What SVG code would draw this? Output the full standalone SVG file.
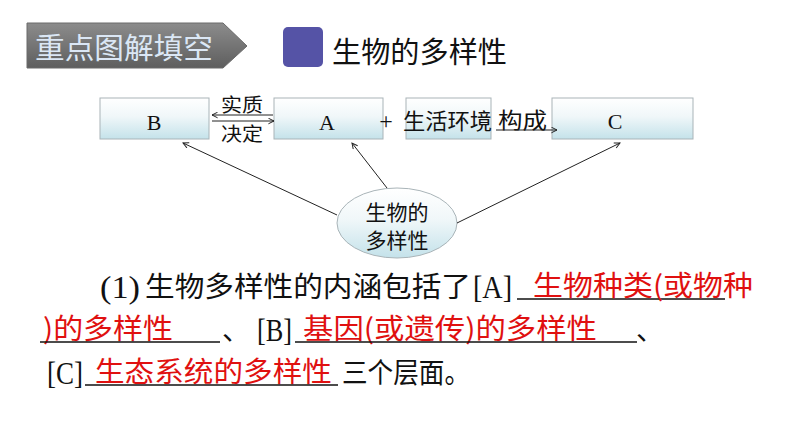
<svg xmlns="http://www.w3.org/2000/svg" width="794" height="447" viewBox="0 0 794 447">
<style>
.box{stroke:#a9b4b8;stroke-width:1;fill:url(#bg)}
.cn{font-family:"Noto Sans CJK SC","Liberation Sans",sans-serif}
.sf{font-family:"Liberation Serif","Noto Sans CJK SC",serif}
.blk{fill:#111}
.red{fill:#e01010}
.ln{stroke:#222;stroke-width:1;fill:none}
.ul{stroke:#111;stroke-width:1.3}
</style>
<defs>
<linearGradient id="bg" x1="0" y1="0" x2="0" y2="1">
<stop offset="0" stop-color="#ffffff"/>
<stop offset="0.45" stop-color="#f0f7f9"/>
<stop offset="1" stop-color="#c4e2ea"/>
</linearGradient>
<linearGradient id="gray" x1="0" y1="0" x2="0" y2="1">
<stop offset="0" stop-color="#8c8c8c"/>
<stop offset="1" stop-color="#5e5e5e"/>
</linearGradient>
<marker id="ah" viewBox="0 0 10 10" refX="9" refY="5" markerWidth="7" markerHeight="7" orient="auto-start-reverse" markerUnits="userSpaceOnUse">
<path d="M1,1 L9,5 L1,9" fill="none" stroke="#222" stroke-width="1.4"/>
</marker>
</defs>
<rect width="794" height="447" fill="#ffffff"/>

<g id="banner">
<polygon points="27,23 223,23 247,46 223,68 27,68" fill="url(#gray)" stroke="#6a6a6a" stroke-width="1"/>
<text x="35" y="59" class="cn" font-size="29" fill="#dbe7f5" textLength="178" lengthAdjust="spacingAndGlyphs">重点图解填空</text>
</g>

<g id="title">
<rect x="283" y="27" width="40" height="40" rx="5" fill="#5553a6"/>
<text x="332" y="63" class="cn" font-size="29" fill="#111" textLength="175" lengthAdjust="spacingAndGlyphs">生物的多样性</text>
</g>

<g id="nodeB">
<rect class="box" x="100" y="98" width="109" height="41"/>
<text x="154" y="130" class="sf blk" font-size="22" text-anchor="middle">B</text>
</g>
<g id="nodeA">
<rect class="box" x="274" y="98" width="109" height="41"/>
<text x="327" y="130" class="sf blk" font-size="22" text-anchor="middle">A</text>
</g>
<g id="nodeEnv">
<rect class="box" x="406" y="98" width="85" height="41"/>
<text x="403" y="129" class="cn blk" font-size="22" textLength="89" lengthAdjust="spacingAndGlyphs">生活环境</text>
</g>
<g id="nodeC">
<rect class="box" x="552" y="98" width="141" height="41"/>
<text x="615" y="129" class="sf blk" font-size="22" text-anchor="middle">C</text>
</g>
<g id="nodeDiv">
<ellipse cx="397" cy="223" rx="60" ry="35" fill="url(#bg)" stroke="#a9b4b8" stroke-width="1"/>
<text x="397" y="220" class="cn blk" font-size="21" text-anchor="middle">生物的</text>
<text x="397" y="248" class="cn blk" font-size="21" text-anchor="middle">多样性</text>
</g>

<g id="labels">
<text x="221" y="112" class="cn blk" font-size="19" textLength="42" lengthAdjust="spacingAndGlyphs">实质</text>
<text x="221" y="141" class="cn blk" font-size="19" textLength="42" lengthAdjust="spacingAndGlyphs">决定</text>
<text x="386" y="129" class="sf blk" font-size="24" text-anchor="middle">+</text>
<text x="498" y="128" class="cn blk" font-size="22" textLength="49" lengthAdjust="spacingAndGlyphs">构成</text>
</g>

<g id="connectors">
<line class="ln" x1="273" y1="115" x2="212" y2="115" marker-end="url(#ah)"/>
<line class="ln" x1="212" y1="121" x2="274" y2="121" marker-end="url(#ah)"/>
<line class="ln" x1="496" y1="130" x2="557" y2="130" marker-end="url(#ah)"/>
<line class="ln" x1="337" y1="215" x2="183" y2="143" marker-end="url(#ah)"/>
<line class="ln" x1="387" y1="188" x2="352" y2="143" marker-end="url(#ah)"/>
<line class="ln" x1="457" y1="223" x2="620" y2="143" marker-end="url(#ah)"/>
</g>

<g id="para">
<text x="100" y="298" class="sf blk" font-size="32" textLength="40" lengthAdjust="spacingAndGlyphs">(1)</text>
<text x="145" y="297" class="cn blk" font-size="28" textLength="326" lengthAdjust="spacingAndGlyphs">生物多样性的内涵包括了</text>
<text x="473" y="298" class="sf blk" font-size="32" textLength="39" lengthAdjust="spacingAndGlyphs">[A]</text>
<line class="ul" x1="517" y1="299" x2="725" y2="299"/>
<text x="533" y="296" class="cn red" font-size="28" textLength="220" lengthAdjust="spacingAndGlyphs">生物种类(或物种</text>

<text x="43" y="339" class="cn red" font-size="28" textLength="130" lengthAdjust="spacingAndGlyphs">)的多样性</text>
<line class="ul" x1="40" y1="342" x2="220" y2="342"/>
<text x="222" y="340" class="cn blk" font-size="28">、</text>
<text x="257" y="341" class="sf blk" font-size="32" textLength="35" lengthAdjust="spacingAndGlyphs">[B]</text>
<text x="303" y="339" class="cn red" font-size="28" textLength="294" lengthAdjust="spacingAndGlyphs">基因(或遗传)的多样性</text>
<line class="ul" x1="295" y1="342" x2="637" y2="342"/>
<text x="636" y="340" class="cn blk" font-size="28">、</text>

<text x="47" y="384" class="sf blk" font-size="32" textLength="36" lengthAdjust="spacingAndGlyphs">[C]</text>
<text x="95" y="382" class="cn red" font-size="28" textLength="237" lengthAdjust="spacingAndGlyphs">生态系统的多样性</text>
<line class="ul" x1="85" y1="385" x2="338" y2="385"/>
<text x="342" y="383" class="cn blk" font-size="28" textLength="128" lengthAdjust="spacingAndGlyphs">三个层面。</text>
</g>
</svg>
